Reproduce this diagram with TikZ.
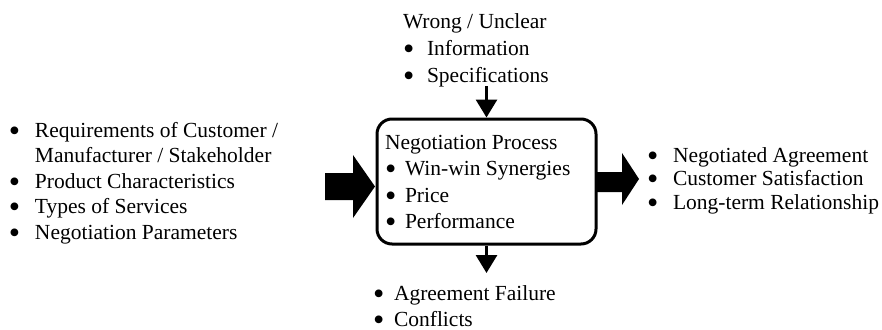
\documentclass[tikz,border=0pt]{standalone}
\usepackage{fontspec}
\setmainfont{Liberation Serif}
\usetikzlibrary{arrows.meta}
\newcommand{\bul}[1]{\makebox[#1][l]{\raisebox{-0.2em}{\scalebox{1.5}{•}}}}
\begin{document}
\begin{tikzpicture}[x=1pt,y=-1pt,
  txt/.style={anchor=base west, inner sep=0pt, outer sep=0pt},
  thinarrow/.style={line width=3pt, -{Triangle[width=21pt,length=18pt]}},
  blockarrow/.style={fill=black}]
\useasboundingbox (0,0) rectangle (882,329);
% central box
\node[draw, line width=3pt, rounded corners=15pt, minimum width=219pt, minimum height=125pt, inner sep=0pt] (box) at (486.5,181.5) {};
% box text
\node[txt, font=\fontsize{21.5}{26.5}\selectfont] (proc) at (385,149)
  {\begin{tabular}[t]{@{}l@{}l@{}}
   \multicolumn{2}{@{}l@{}}{Negotiation Process}\\
   \bul{20pt} & Win-win Synergies\\
   \bul{20pt} & Price\\
   \bul{20pt} & Performance
   \end{tabular}};
% top text
\node[txt, font=\fontsize{21.5}{26.7}\selectfont] (wrong) at (403,29)
  {\begin{tabular}[t]{@{}l@{}l@{}}
   \multicolumn{2}{@{}l@{}}{Wrong / Unclear}\\
   \bul{24pt} & Information\\
   \bul{24pt} & Specifications
   \end{tabular}};
% left text
\node[txt, font=\fontsize{21.5}{25.5}\selectfont] (inputs) at (9,137)
  {\begin{tabular}[t]{@{}l@{}l@{}}
   \bul{26pt} & Requirements of Customer /\\
   & Manufacturer / Stakeholder\\
   \bul{26pt} & Product Characteristics\\
   \bul{26pt} & Types of Services\\
   \bul{26pt} & Negotiation Parameters
   \end{tabular}};
% right text
\node[txt, font=\fontsize{21.5}{23.5}\selectfont] (outputs) at (647,162)
  {\begin{tabular}[t]{@{}l@{}l@{}}
   \bul{26pt} & Negotiated Agreement\\
   \bul{26pt} & Customer Satisfaction\\
   \bul{26pt} & Long-term Relationship
   \end{tabular}};
% bottom text
\node[txt, font=\fontsize{21.5}{26}\selectfont] (fail) at (373,300)
  {\begin{tabular}[t]{@{}l@{}l@{}}
   \bul{21pt} & Agreement Failure\\
   \bul{21pt} & Conflicts
   \end{tabular}};
% thin arrows
\coordinate (tin) at (486.5,86);
\coordinate (bout) at (486.5,273);
\draw[thinarrow] (tin) -- (box.north);
\draw[thinarrow] (box.south) -- (bout);
% block arrows
\fill[blockarrow] (325,173) -- (353,173) -- (353,155) -- (375,186.5) -- (353,218) -- (353,200) -- (325,200) -- cycle;
\fill[blockarrow] (597,172) -- (622,172) -- (622,153) -- (639,179) -- (622,205) -- (622,192) -- (597,192) -- cycle;
\end{tikzpicture}
\end{document}
